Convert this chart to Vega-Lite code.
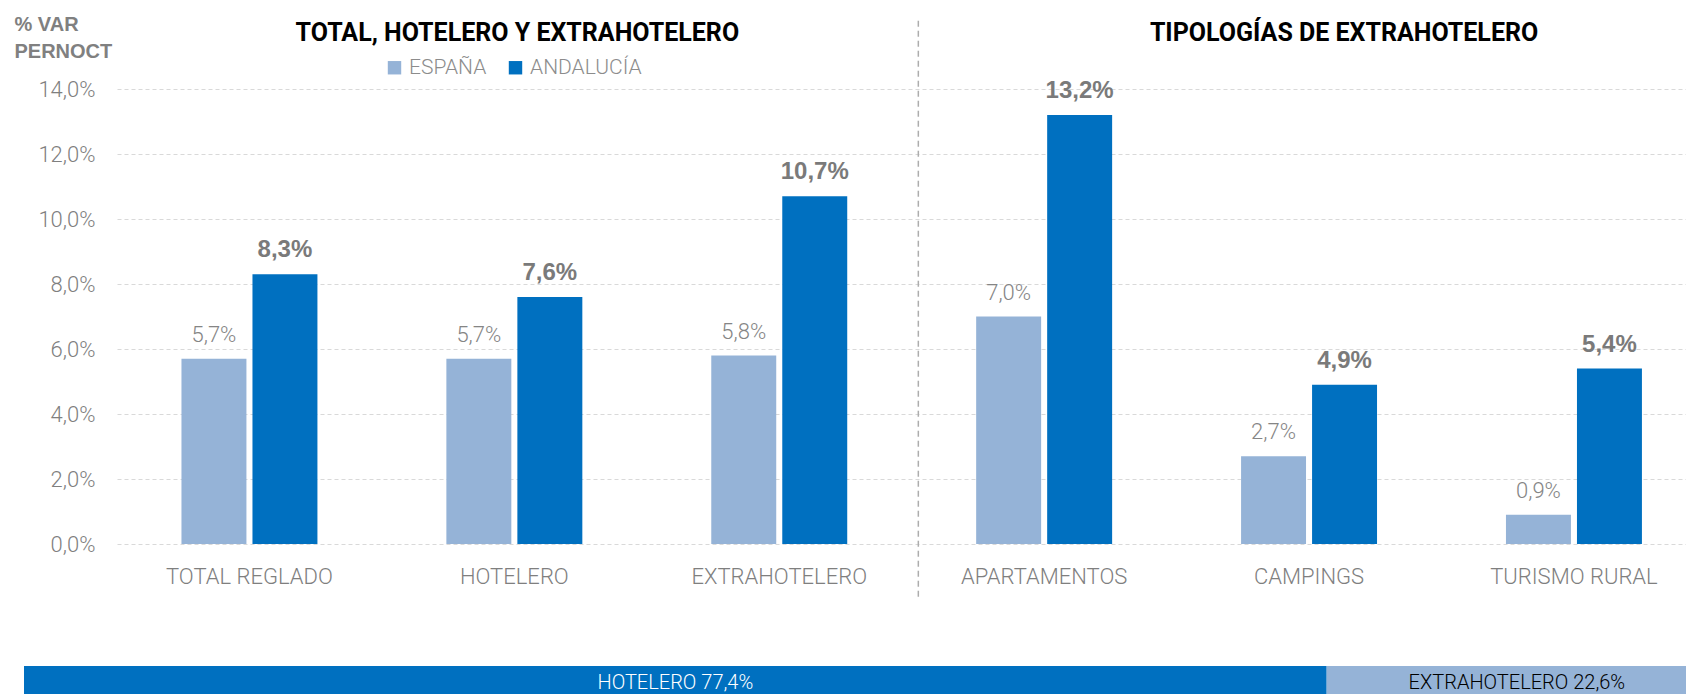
{
  "$schema": "https://vega.github.io/schema/vega-lite/v6.json",
  "width": 1569,
  "height": 455,
  "autosize": {"type": "none"},
  "padding": {"left": 117, "top": 89, "right": 0, "bottom": 150},
  "background": "#ffffff",
  "config": {
    "view": {"stroke": null},
    "locale": {"number": {"decimal": ",", "thousands": ".", "grouping": [3], "currency": ["", " €"]}}
  },
  "datasets": {
    "pernoctaciones": [
      {"tipologia": "TOTAL REGLADO", "serie": "ESPAÑA", "valor": 0.057},
      {"tipologia": "TOTAL REGLADO", "serie": "ANDALUCÍA", "valor": 0.083},
      {"tipologia": "HOTELERO", "serie": "ESPAÑA", "valor": 0.057},
      {"tipologia": "HOTELERO", "serie": "ANDALUCÍA", "valor": 0.076},
      {"tipologia": "EXTRAHOTELERO", "serie": "ESPAÑA", "valor": 0.058},
      {"tipologia": "EXTRAHOTELERO", "serie": "ANDALUCÍA", "valor": 0.107},
      {"tipologia": "APARTAMENTOS", "serie": "ESPAÑA", "valor": 0.070},
      {"tipologia": "APARTAMENTOS", "serie": "ANDALUCÍA", "valor": 0.132},
      {"tipologia": "CAMPINGS", "serie": "ESPAÑA", "valor": 0.027},
      {"tipologia": "CAMPINGS", "serie": "ANDALUCÍA", "valor": 0.049},
      {"tipologia": "TURISMO RURAL", "serie": "ESPAÑA", "valor": 0.009},
      {"tipologia": "TURISMO RURAL", "serie": "ANDALUCÍA", "valor": 0.054}
    ],
    "cuota": [
      {"tipo": "HOTELERO", "cuota": 77.4, "etiqueta": "HOTELERO 77,4%"},
      {"tipo": "EXTRAHOTELERO", "cuota": 22.6, "etiqueta": "EXTRAHOTELERO 22,6%"}
    ]
  },
  "layer": [
    {
      "data": {"name": "pernoctaciones"},
      "layer": [
        {
          "mark": {"type": "bar"},
          "encoding": {
            "x": {
              "field": "tipologia", "type": "nominal",
              "sort": ["TOTAL REGLADO", "HOTELERO", "EXTRAHOTELERO", "APARTAMENTOS", "CAMPINGS", "TURISMO RURAL"],
              "scale": {
                "domain": ["TOTAL REGLADO", "HOTELERO", "EXTRAHOTELERO", "APARTAMENTOS", "CAMPINGS", "TURISMO RURAL"],
                "range": [0, 1589.4], "paddingInner": 0, "paddingOuter": 0
              },
              "axis": {
                "title": null, "domain": false, "ticks": false, "labelAngle": 0, "labelLimit": 0,
                "labelFont": "Roboto", "labelFontWeight": 300,
                "labelFontSize": 22, "labelColor": "#7F7F7F", "labelPadding": 22, "labelBaseline": "top"
              }
            },
            "xOffset": {
              "field": "serie", "type": "nominal",
              "scale": {"domain": ["ESPAÑA", "ANDALUCÍA"], "paddingInner": 0.085, "paddingOuter": 0.908}
            },
            "y": {
              "field": "valor", "type": "quantitative",
              "scale": {"domain": [0, 0.14], "nice": false},
              "axis": {
                "values": [0, 0.02, 0.04, 0.06, 0.08, 0.1, 0.12, 0.14],
                "format": ".1%", "domain": false, "ticks": false,
                "grid": true, "gridColor": "#D9D9D9", "gridDash": [4, 3], "gridWidth": 1,
                "labelFont": "Roboto", "labelFontWeight": 300,
                "labelFontSize": 22, "labelColor": "#7F7F7F", "labelPadding": 22,
                "title": ["% VAR", "PERNOCT"], "titleAngle": 0, "titleAlign": "left", "titleBaseline": "top",
                "titleX": -103, "titleY": -75, "titleFont": "Liberation Sans", "titleFontSize": 20,
                "titleFontWeight": "bold", "titleColor": "#808080", "titleLineHeight": 27
              }
            },
            "color": {
              "field": "serie", "type": "nominal",
              "scale": {"domain": ["ESPAÑA", "ANDALUCÍA"], "range": ["#95B3D7", "#0070C0"]},
              "legend": {
                "orient": "none", "legendX": 267, "legendY": -32, "direction": "horizontal",
                "title": null, "symbolType": "square", "symbolSize": 180, "symbolStrokeWidth": 0,
                "labelFont": "Roboto", "labelFontWeight": 300,
                "labelFontSize": 21, "labelColor": "#8C8C8C", "labelOffset": 4,
                "columnPadding": 18, "padding": 0
              }
            }
          }
        },
        {
          "transform": [{"filter": "datum.serie === 'ESPAÑA'"}],
          "mark": {
            "type": "text", "font": "Roboto", "fontWeight": 300,
            "fontSize": 22, "color": "#858585", "baseline": "alphabetic", "align": "center", "dy": -17
          },
          "encoding": {
            "x": {"field": "tipologia", "type": "nominal"},
            "xOffset": {"field": "serie", "type": "nominal"},
            "y": {"field": "valor", "type": "quantitative"},
            "text": {"field": "valor", "type": "quantitative", "format": ".1%"}
          }
        },
        {
          "transform": [{"filter": "datum.serie === 'ANDALUCÍA'"}],
          "mark": {
            "type": "text", "font": "Liberation Sans", "fontWeight": "bold",
            "fontSize": 24, "color": "#7A7A7A", "baseline": "alphabetic", "align": "center", "dy": -17
          },
          "encoding": {
            "x": {"field": "tipologia", "type": "nominal"},
            "xOffset": {"field": "serie", "type": "nominal"},
            "y": {"field": "valor", "type": "quantitative"},
            "text": {"field": "valor", "type": "quantitative", "format": ".1%"}
          }
        },
        {
          "data": {"values": [{}]},
          "mark": {"type": "rule", "strokeDash": [6, 4], "color": "#ADADAD", "strokeWidth": 1.5},
          "encoding": {
            "x": {"datum": "APARTAMENTOS", "bandPosition": 0.025},
            "y": {"datum": 0.161},
            "y2": {"datum": -0.0163}
          }
        },
        {
          "data": {"values": [{}]},
          "mark": {
            "type": "text", "text": "TOTAL, HOTELERO Y EXTRAHOTELERO", "font": "Roboto",
            "fontWeight": "bold", "fontSize": 25, "color": "#000000", "align": "center",
            "baseline": "alphabetic", "dx": 3
          },
          "encoding": {
            "x": {"datum": "HOTELERO"},
            "y": {"datum": 0.1548}
          }
        },
        {
          "data": {"values": [{}]},
          "mark": {
            "type": "text", "text": "TIPOLOGÍAS DE EXTRAHOTELERO", "font": "Roboto",
            "fontWeight": "bold", "fontSize": 25, "color": "#000000", "align": "center",
            "baseline": "alphabetic", "dx": 35
          },
          "encoding": {
            "x": {"datum": "CAMPINGS"},
            "y": {"datum": 0.1548}
          }
        }
      ]
    },
    {
      "data": {"name": "cuota"},
      "transform": [
        {"stack": "cuota", "groupby": [], "as": ["c0", "c1"], "sort": [{"field": "tipo", "order": "descending"}]},
        {"calculate": "(datum.c0 + datum.c1) / 2", "as": "medio"}
      ],
      "layer": [
        {
          "mark": {"type": "bar"},
          "encoding": {
            "x": {
              "field": "c0", "type": "quantitative",
              "scale": {"domain": [0, 98.75], "range": [-93, 1569], "clamp": true, "nice": false, "zero": false},
              "axis": null
            },
            "x2": {"field": "c1"},
            "y": {
              "datum": "cuota", "type": "nominal",
              "scale": {"range": [577, 611], "paddingInner": 0, "paddingOuter": 0},
              "axis": null
            },
            "fill": {"condition": {"test": "datum.tipo === 'HOTELERO'", "value": "#0070C0"}, "value": "#95B3D7"}
          }
        },
        {
          "mark": {
            "type": "text", "font": "Roboto", "fontWeight": 300,
            "fontSize": 20, "baseline": "middle", "align": "center"
          },
          "encoding": {
            "x": {"field": "medio", "type": "quantitative"},
            "y": {"datum": "cuota", "type": "nominal"},
            "text": {"field": "etiqueta", "type": "nominal"},
            "color": {"condition": {"test": "datum.tipo === 'HOTELERO'", "value": "#FFFFFF"}, "value": "#000000"}
          }
        }
      ]
    }
  ],
  "resolve": {"scale": {"x": "independent", "y": "independent"}}
}
